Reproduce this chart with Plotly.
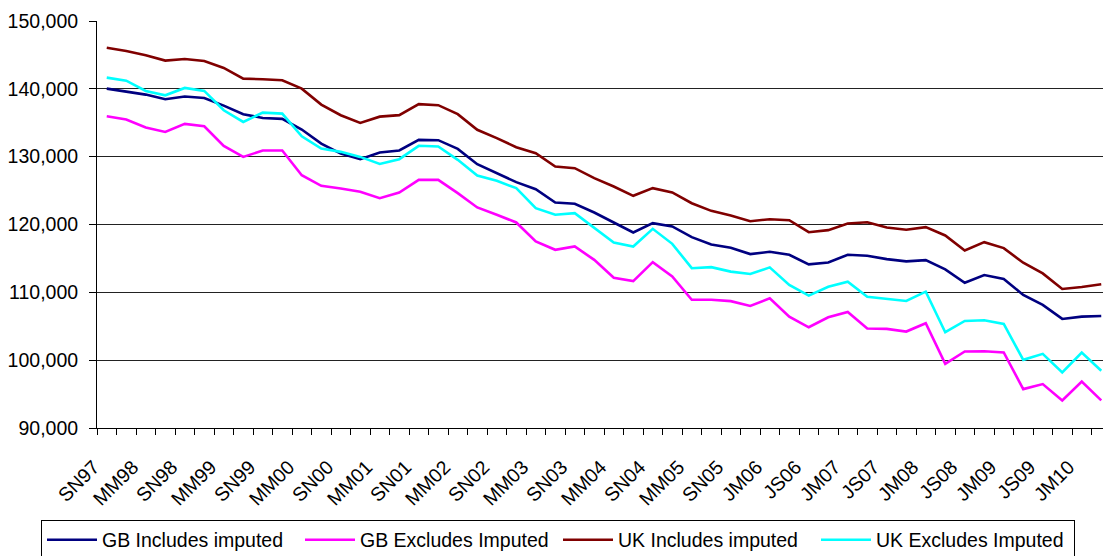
import plotly.graph_objects as go

categories = [
    "SN97", "DF98", "MM98", "JA98", "SN98", "DF99", "MM99", "JA99", "SN99", "DF00",
    "MM00", "JA00", "SN00", "DF01", "MM01", "JA01", "SN01", "DF02", "MM02", "JA02",
    "SN02", "DF03", "MM03", "JA03", "SN03", "DF04", "MM04", "JA04", "SN04", "DF05",
    "MM05", "JA05", "SN05", "OD05", "JM06", "AJ06", "JS06", "OD06", "JM07", "AJ07",
    "JS07", "OD07", "JM08", "AJ08", "JS08", "OD08", "JM09", "AJ09", "JS09", "OD09",
    "JM10", "AJ10",
]

gb_includes = [
    140030, 139640, 139150, 138460, 138860, 138660, 137530, 136250, 135710, 135570,
    134000, 131930, 130460, 129630, 130610, 130910, 132480, 132430, 131150, 128890,
    127570, 126240, 125210, 123240, 123050, 121770, 120290, 118820, 120200, 119710,
    118130, 117050, 116560, 115640, 115980, 115540, 114120, 114410, 115540, 115390,
    114900, 114560, 114750, 113380, 111420, 112550, 111960, 109610, 108140, 106080,
    106420, 106520,
]

gb_excludes = [
    135960, 135470, 134290, 133650, 134830, 134490, 131590, 129970, 130900, 130900,
    127270, 125700, 125310, 124820, 123880, 124720, 126580, 126580, 124620, 122510,
    121430, 120300, 117500, 116270, 116760, 114790, 112140, 111650, 114450, 112340,
    108900, 108900, 108700, 107990, 109120, 106420, 104850, 106320, 107110, 104660,
    104610, 104220, 105440, 99460, 101280, 101320, 101130, 95730, 96470, 94070,
    96860, 94070,
]

uk_includes = [
    146070, 145580, 144940, 144160, 144400, 144110, 143080, 141510, 141410, 141260,
    140030, 137680, 136110, 134980, 135900, 136120, 137740, 137590, 136270, 133960,
    132730, 131400, 130520, 128550, 128300, 126830, 125600, 124230, 125360, 124720,
    123140, 122010, 121330, 120490, 120780, 120640, 118870, 119170, 120150, 120340,
    119560, 119220, 119610, 118380, 116180, 117400, 116520, 114360, 112790, 110490,
    110780, 111180,
]

uk_excludes = [
    141650, 141210, 139690, 139050, 140130, 139690, 136840, 135120, 136500, 136350,
    133010, 131200, 130710, 129970, 128920, 129630, 131600, 131500, 129530, 127220,
    126440, 125360, 122410, 121430, 121670, 119460, 117350, 116760, 119360, 117150,
    113560, 113710, 113050, 112700, 113680, 111080, 109510, 110830, 111570, 109360,
    109020, 108730, 110100, 104120, 105780, 105880, 105340, 100050, 100930, 98190,
    101130, 98430,
]

series = [
    ("GB Includes imputed", gb_includes, "#000080"),
    ("GB Excludes Imputed", gb_excludes, "#FF00FF"),
    ("UK Includes imputed", uk_includes, "#800000"),
    ("UK Excludes Imputed", uk_excludes, "#00FFFF"),
]

tick_labels = [c if i % 2 == 0 else "" for i, c in enumerate(categories)]

FONT = "Liberation Sans, Arial, sans-serif"
FS = 19.5

fig = go.Figure()
for name, vals, color in series:
    fig.add_trace(go.Scatter(
        x=categories, y=vals, name=name, mode="lines",
        line=dict(color=color, width=2.6),
    ))

fig.update_layout(
    width=1103, height=556,
    margin=dict(l=97, r=0, t=21, b=127.7, autoexpand=False),
    paper_bgcolor="white", plot_bgcolor="white",
    font=dict(family=FONT, size=FS, color="black"),
    showlegend=True,
    legend=dict(
        orientation="h", xref="paper", yref="paper",
        x=-56 / 1006, y=-(520 - 428.3) / 407.6, xanchor="left", yanchor="top",
        bordercolor="black", borderwidth=1, bgcolor="white",
        font=dict(family=FONT, size=FS, color="black"),
        entrywidth=193, itemwidth=50,
    ),
    xaxis=dict(
        type="category", range=[-0.5, 51.09],
        tickmode="array", tickvals=categories, ticktext=tick_labels,
        tickson="boundaries", tickangle=-45,
        ticklabelstandoff=19, ticklabelshift=-13,
        ticks="outside", ticklen=6, tickcolor="black", tickwidth=1,
        showgrid=False, showline=True, linecolor="black", linewidth=1,
        zeroline=False, automargin=False,
        tickfont=dict(family=FONT, size=FS, color="black"),
    ),
    yaxis=dict(
        range=[90000, 150000], dtick=10000, tick0=90000,
        tickformat=",d", ticks="outside", ticklen=7, tickcolor="black",
        ticklabelstandoff=7,
        showgrid=True, gridcolor="#222222", gridwidth=1,
        showline=True, linecolor="black", linewidth=1,
        zeroline=False, automargin=False,
        tickfont=dict(family=FONT, size=FS, color="black"),
    ),
)

fig.write_html(
    "out.html",
    config={"displayModeBar": False},
    post_script="document.body.style.margin='0';document.body.style.overflow='hidden';",
)
